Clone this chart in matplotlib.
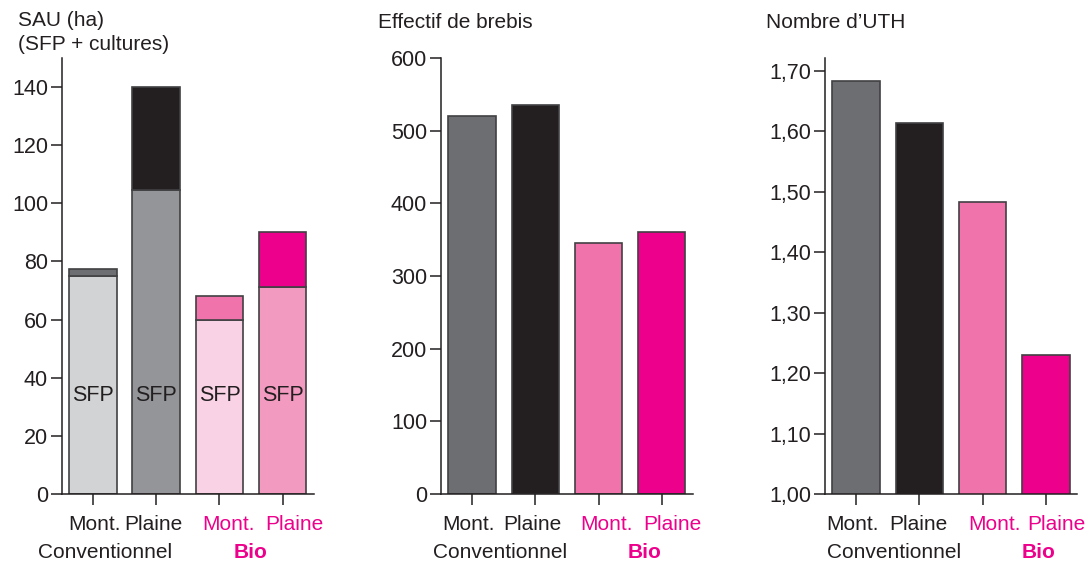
import numpy as np
import matplotlib
import matplotlib.pyplot as plt
import matplotlib.transforms as mtransforms

matplotlib.use("Agg")
plt.rcParams["font.family"] = ["Liberation Sans", "DejaVu Sans"]

# data
categories = ["Mont.", "Plaine", "Mont.", "Plaine"]
groups = ["Conventionnel", "Bio"]

sau_sfp = [75, 104.4, 60, 71.3]
sau_total = [77.5, 140, 68, 90]
brebis = [520, 535, 346, 361]
uth = [1.683, 1.613, 1.482, 1.230]

sau_ticks = [0, 20, 40, 60, 80, 100, 120, 140]
brebis_ticks = [0, 100, 200, 300, 400, 500, 600]
uth_ticks = [1.00, 1.10, 1.20, 1.30, 1.40, 1.50, 1.60, 1.70]

# colours
dark = "#231f20"
pink = "#ec008c"
edge = "#414042"
sfp_colors = ["#d1d3d4", "#939598", "#f9d3e5", "#f39ac1"]
top_colors = ["#6d6e71", "#231f20", "#f173ac", "#ec008c"]
main_colors = ["#6d6e71", "#231f20", "#f173ac", "#ec008c"]
label_colors = [dark, dark, pink, pink]

fig = plt.figure(figsize=(10.87, 5.62), dpi=100)
bottom, height, width = 0.121, 0.776, 0.2322
ax1 = fig.add_axes([0.0570, bottom, width, height])
ax2 = fig.add_axes([0.4057, bottom, width, height])
ax3 = fig.add_axes([0.7590, bottom, width, height])

x = np.arange(len(categories))
bw = 0.75

# SAU stacked
ax1.bar(x, sau_sfp, bw, color=sfp_colors, edgecolor=edge, linewidth=1.2, zorder=2)
ax1.bar(x, np.array(sau_total) - np.array(sau_sfp), bw, bottom=sau_sfp,
        color=top_colors, edgecolor=edge, linewidth=1.2, zorder=2)
for xi in x:
    ax1.text(xi, 34, "SFP", ha="center", va="center", fontsize=15.5, color=dark)
ax1.set_ylim(0, 150)
ax1.set_yticks(sau_ticks)
ax1.set_yticklabels([str(t) for t in sau_ticks])

ax2.bar(x, brebis, bw, color=main_colors, edgecolor=edge, linewidth=1.2, zorder=2)
ax2.set_ylim(0, 600)
ax2.set_yticks(brebis_ticks)
ax2.set_yticklabels([str(t) for t in brebis_ticks])

ax3.bar(x, uth, bw, color=main_colors, edgecolor=edge, linewidth=1.2, zorder=2)
ax3.set_ylim(1.0, 1.721)
ax3.set_yticks(uth_ticks)
ax3.set_yticklabels([f"{t:.2f}".replace(".", ",") for t in uth_ticks])

# label positions per panel (data x): Mont, Plaine, Mont, Plaine, Conventionnel, Bio
label_x = [
    [0.02, 0.96, 2.14, 3.18, 0.19, 2.49],
    [-0.06, 0.95, 2.13, 3.16, 0.44, 2.73],
    [-0.06, 0.98, 2.19, 3.16, 0.60, 2.89],
]

for ax, lx in zip([ax1, ax2, ax3], label_x):
    ax.set_xlim(-0.49, 3.5)
    ax.set_xticks(x)
    ax.set_xticklabels([])
    for side in ["top", "right"]:
        ax.spines[side].set_visible(False)
    for side in ["left", "bottom"]:
        ax.spines[side].set_color(dark)
        ax.spines[side].set_linewidth(1.1)
    ax.tick_params(axis="y", length=8, width=1.1, color=dark, labelsize=15.5,
                   labelcolor=dark, pad=2)
    ax.tick_params(axis="x", length=8, width=1.1, color=dark)
    trans = mtransforms.blended_transform_factory(ax.transData, fig.transFigure)
    for i, cat in enumerate(categories):
        ax.text(lx[i], 1 - 525 / 562, cat, transform=trans, ha="center",
                va="center", fontsize=15, color=label_colors[i])
    ax.text(lx[4], 1 - 552 / 562, groups[0], transform=trans, ha="center",
            va="center", fontsize=15, color=dark)
    ax.text(lx[5], 1 - 552 / 562, groups[1], transform=trans, ha="center",
            va="center", fontsize=15, color=pink, fontweight="bold")

fig.text(18 / 1087, 1 - 21 / 562, "SAU (ha)", ha="left", va="center",
         fontsize=15, color=dark)
fig.text(18 / 1087, 1 - 44 / 562, "(SFP + cultures)", ha="left", va="center",
         fontsize=15, color=dark)
fig.text(378 / 1087, 1 - 22 / 562, "Effectif de brebis", ha="left", va="center",
         fontsize=15, color=dark)
fig.text(766 / 1087, 1 - 22 / 562, "Nombre d\u2019UTH", ha="left", va="center",
         fontsize=15, color=dark)

fig.savefig("out.png", dpi=100)
